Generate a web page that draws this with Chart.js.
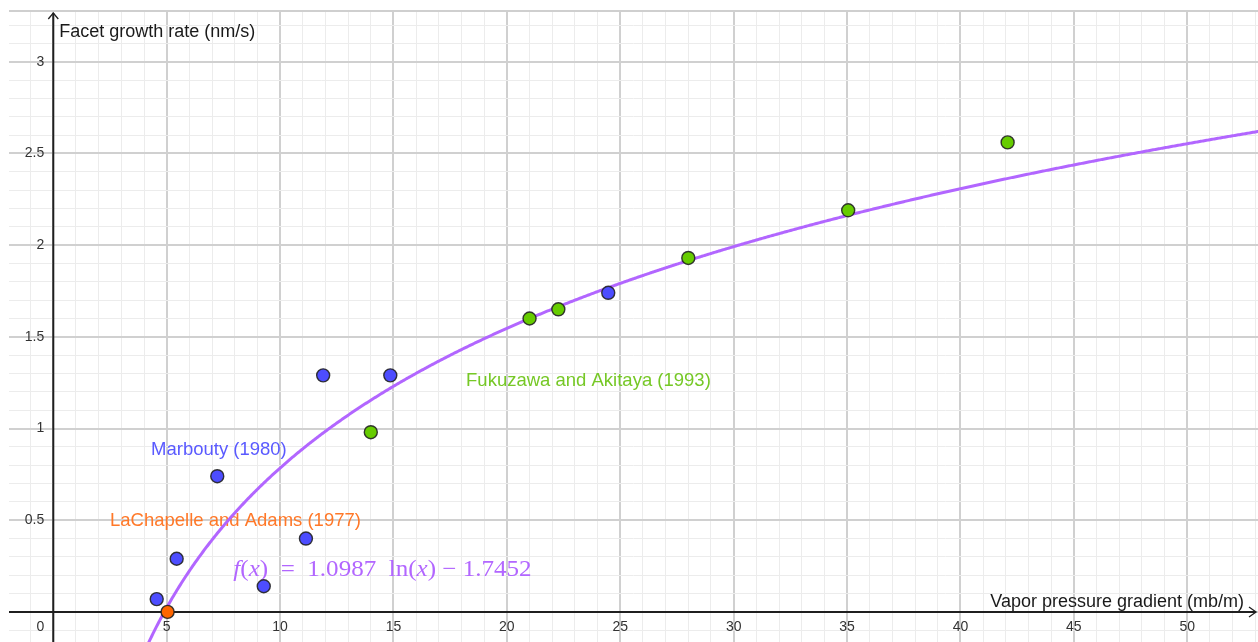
<!DOCTYPE html>
<html>
<head>
<meta charset="utf-8">
<script src="https://cdn.jsdelivr.net/npm/chart.js@4.4.1/dist/chart.umd.min.js"></script>
<style>
  html, body { margin: 0; padding: 0; background: #fff; overflow: hidden; }
  #wrap { width: 1258px; height: 642px; }
  #facetChart { display: block; }
</style>
</head>
<body>
<div id="wrap"><canvas id="facetChart" width="1258" height="642"></canvas></div>
<script>
// values
const marboutyX = [4.56, 5.44, 7.23, 9.28, 11.14, 11.9, 14.86, 24.47];
const marboutyY = [0.07, 0.29, 0.74, 0.14, 0.40, 1.29, 1.29, 1.74];
const fukuzawaX = [14.0, 21.0, 22.27, 28.0, 35.05, 42.08];
const fukuzawaY = [0.98, 1.60, 1.65, 1.93, 2.19, 2.56];
const lachapelleX = [5.04];
const lachapelleY = [0.0];

// fitted curve f(x) = fitA ln(x) + fitB
const fitA = 1.0987;
const fitB = -1.7452;

const xTickLabels = [5, 10, 15, 20, 25, 30, 35, 40, 45, 50];
const yTickLabels = [0.5, 1, 1.5, 2, 2.5, 3];

const X_MIN = -1.953, X_MAX = 53.12;
const Y_MIN = -0.164, Y_MAX = 3.282;

const blue = 'rgb(77, 77, 255)';
const green = 'rgb(102, 204, 0)';
const orange = 'rgb(255, 102, 0)';
const purple = 'rgb(178, 102, 255)';

// text placed in data units (left x, baseline y)
const notes = [
  { text: 'Marbouty (1980)', x: 4.31, y: 0.856, color: 'rgb(90, 90, 255)' },
  { text: 'LaChapelle and Adams (1977)', x: 2.5, y: 0.471, color: 'rgb(255, 120, 40)' },
  { text: 'Fukuzawa and Akitaya (1993)', x: 18.2, y: 1.232, color: 'rgb(118, 200, 38)' }
];

const pairs = (xs, ys) => xs.map((v, i) => ({ x: v, y: ys[i] }));

// sample the fitted function across the visible range
const curve = [];
for (let v = 4.1; v <= X_MAX + 0.1; v += 0.05) {
  curve.push({ x: v, y: fitA * Math.log(v) + fitB });
}

// grid lines: every 1 on x, every 0.1 on y
const gridX = [];
for (let i = Math.ceil(X_MIN); i <= Math.floor(X_MAX); i++) gridX.push(i);
const gridY = [];
for (let i = Math.ceil(Y_MIN * 10); i <= Math.floor(Y_MAX * 10); i++) gridY.push(i / 10);

const isMajorX = v => Math.round(v) % 5 === 0;
const isMajorY = v => Math.round(v * 10) % 5 === 0;

const geoAxes = {
  id: 'geoAxes',
  beforeDatasetsDraw(chart) {
    const { ctx, chartArea, scales: { x, y } } = chart;
    const x0 = x.getPixelForValue(0);
    const y0 = y.getPixelForValue(0);
    ctx.save();

    // top edge of the view
    ctx.strokeStyle = '#cfcfcf';
    ctx.lineWidth = 2;
    ctx.beginPath();
    ctx.moveTo(chartArea.left, chartArea.top + 1);
    ctx.lineTo(chartArea.right, chartArea.top + 1);
    ctx.stroke();

    // axes
    ctx.strokeStyle = '#1f1f1f';
    ctx.lineWidth = 2;
    ctx.beginPath();
    ctx.moveTo(chartArea.left, y0);
    ctx.lineTo(chartArea.right - 2, y0);
    ctx.moveTo(x0, chartArea.bottom);
    ctx.lineTo(x0, chartArea.top + 3);
    ctx.stroke();

    // arrow heads
    ctx.lineWidth = 1.3;
    ctx.beginPath();
    ctx.moveTo(chartArea.right - 9, y0 - 5);
    ctx.lineTo(chartArea.right - 2, y0);
    ctx.lineTo(chartArea.right - 9, y0 + 5);
    ctx.moveTo(x0 - 5, chartArea.top + 9);
    ctx.lineTo(x0, chartArea.top + 3);
    ctx.lineTo(x0 + 5, chartArea.top + 9);
    ctx.stroke();

    // tick labels
    ctx.fillStyle = '#333';
    ctx.font = '14px "Liberation Sans", Arial, sans-serif';
    ctx.textBaseline = 'middle';
    ctx.textAlign = 'center';
    xTickLabels.forEach(v => ctx.fillText(String(v), x.getPixelForValue(v), y0 + 15));
    ctx.fillText('0', x0 - 13, y0 + 15);
    ctx.textAlign = 'right';
    yTickLabels.forEach(v => ctx.fillText(String(v), x0 - 9, y.getPixelForValue(v)));

    // axis titles
    ctx.fillStyle = '#1a1a1a';
    ctx.font = '18px "Liberation Sans", Arial, sans-serif';
    ctx.textBaseline = 'alphabetic';
    ctx.textAlign = 'left';
    ctx.fillText('Facet growth rate (nm/s)', x0 + 6, chartArea.top + 27);
    ctx.textAlign = 'right';
    ctx.fillText('Vapor pressure gradient (mb/m)', chartArea.right - 14, y0 - 5);

    // series captions
    ctx.font = '18.5px "Liberation Sans", Arial, sans-serif';
    ctx.textAlign = 'left';
    notes.forEach(n => {
      ctx.fillStyle = n.color;
      ctx.fillText(n.text, x.getPixelForValue(n.x), y.getPixelForValue(n.y));
    });

    // formula, squeezed to the width it has in the original
    const pieces = [
      ['f', 1], ['(', 0], ['x', 1], [')', 0], ['  =  ', 0], ['1.0987', 0], ['  ', 0],
      ['ln', 0], ['(', 0], ['x', 1], [')', 0], [' \u2212 ', 0], ['1.7452', 0]
    ];
    const fontFor = it => (it ? 'italic ' : '') + '23px "Liberation Serif", "DejaVu Serif", serif';
    let natural = 0;
    pieces.forEach(p => { ctx.font = fontFor(p[1]); natural += ctx.measureText(p[0]).width; });
    const left = x.getPixelForValue(7.94);
    const right = x.getPixelForValue(21.09);
    ctx.translate(left, y.getPixelForValue(0.198));
    ctx.scale((right - left) / natural, 1);
    ctx.fillStyle = purple;
    let cx = 0;
    pieces.forEach(p => {
      ctx.font = fontFor(p[1]);
      ctx.fillText(p[0], cx, 0);
      cx += ctx.measureText(p[0]).width;
    });
    ctx.restore();
  }
};

const pointStyle = color => ({
  backgroundColor: color,
  borderColor: 'rgba(35, 35, 35, 0.9)',
  pointRadius: 6.5,
  pointBorderWidth: 1.4,
  showLine: false
});

new Chart(document.getElementById('facetChart'), {
  type: 'scatter',
  data: {
    datasets: [
      { label: 'LaChapelle and Adams (1977)', data: pairs(lachapelleX, lachapelleY), ...pointStyle(orange), order: 1 },
      { label: 'Marbouty (1980)', data: pairs(marboutyX, marboutyY), ...pointStyle(blue), order: 2 },
      { label: 'Fukuzawa and Akitaya (1993)', data: pairs(fukuzawaX, fukuzawaY), ...pointStyle(green), order: 3 },
      {
        label: 'f(x)', data: curve, showLine: true, pointRadius: 0,
        borderColor: purple, borderWidth: 3, tension: 0, order: 10
      }
    ]
  },
  options: {
    responsive: false,
    animation: false,
    devicePixelRatio: 1,
    layout: { autoPadding: false, padding: { left: 9, top: 10, right: 0, bottom: 0 } },
    plugins: { legend: { display: false }, tooltip: { enabled: false } },
    scales: {
      x: {
        type: 'linear', min: X_MIN, max: X_MAX,
        afterBuildTicks: s => { s.ticks = gridX.map(v => ({ value: v })); },
        afterFit: s => { s.height = 0; s.paddingLeft = s.paddingRight = 0; },
        ticks: { display: false },
        border: { display: false },
        grid: {
          drawTicks: false,
          color: c => isMajorX(c.tick.value) ? '#d0d0d0' : '#ececec',
          lineWidth: c => isMajorX(c.tick.value) ? 2 : 1
        }
      },
      y: {
        type: 'linear', min: Y_MIN, max: Y_MAX,
        afterBuildTicks: s => { s.ticks = gridY.map(v => ({ value: v })); },
        afterFit: s => { s.width = 0; s.paddingTop = s.paddingBottom = 0; },
        ticks: { display: false },
        border: { display: false },
        grid: {
          drawTicks: false,
          color: c => isMajorY(c.tick.value) ? '#d0d0d0' : '#ececec',
          lineWidth: c => isMajorY(c.tick.value) ? 2 : 1
        }
      }
    }
  },
  plugins: [geoAxes]
});
</script>
</body>
</html>
